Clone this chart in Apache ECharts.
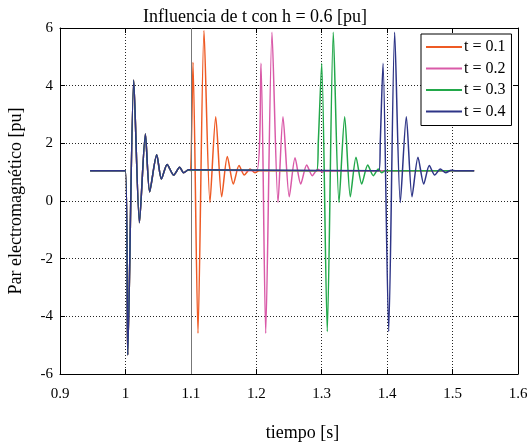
<!DOCTYPE html>
<html>
<head>
<meta charset="utf-8">
<script src="https://cdn.jsdelivr.net/npm/echarts@6/dist/echarts.min.js"></script>
<style>html,body{margin:0;padding:0;background:#fff;}#c{width:531px;height:444px;}</style>
</head>
<body>
<div id="c"></div>
<script>
// ---- data ----
const xTicks = [0.9, 1.0, 1.1, 1.2, 1.3, 1.4, 1.5, 1.6];
const yTicks = [-6, -4, -2, 0, 2, 4, 6];
const seriesNames = ['t = 0.1', 't = 0.2', 't = 0.3', 't = 0.4'];
const startTime = 0.946;
const endTime = 1.533;
const steadyLevel = 1.05;
const clearMarker = 1.1;

// common fault transient (starting at t = 1.0 s)
const faultTime  = [1.000, 1.0035, 1.0127, 1.0214, 1.0305, 1.0370, 1.0478, 1.0550, 1.0637, 1.0737, 1.0829, 1.0890, 1.0966];
const faultValue = [1.05, -5.34, 4.20, -0.75, 2.32, 0.32, 1.60, 0.76, 1.27, 0.90, 1.17, 0.98, 1.08];

// clearing transients
const clear1Time  = [1.0994, 1.1033, 1.1109, 1.1201, 1.1292, 1.1380, 1.1471, 1.1557, 1.1649, 1.1736, 1.1817, 1.1904, 1.1980, 1.2041];
const clear1Value = [1.05, 4.81, -4.59, 5.91, -0.05, 2.92, 0.15, 1.54, 0.59, 1.23, 0.90, 1.11, 0.98, 1.05];

const clear2Time  = [1.2006, 1.2072, 1.2144, 1.2240, 1.2332, 1.2408, 1.2504, 1.2592, 1.2679, 1.2770, 1.2856, 1.2938, 1.3015, 1.3065];
const clear2Value = [1.05, 4.78, -4.59, 5.85, -0.05, 2.92, 0.15, 1.50, 0.59, 1.25, 0.88, 1.10, 1.00, 1.05];

const clear3Time  = [1.2923, 1.2948, 1.3000, 1.3085, 1.3177, 1.3264, 1.3351, 1.3437, 1.3524, 1.3611, 1.3703, 1.3788, 1.3865, 1.3917, 1.3967];
const clear3Value = [1.05, 2.05, 4.78, -4.53, 5.85, -0.05, 2.92, 0.15, 1.52, 0.59, 1.25, 0.88, 1.11, 0.98, 1.05];

const clear4Time  = [1.3875, 1.3895, 1.3937, 1.4024, 1.4115, 1.4201, 1.4293, 1.4380, 1.4471, 1.4559, 1.4644, 1.4727, 1.4812, 1.4895, 1.4980, 1.5052];
const clear4Value = [1.05, 2.05, 4.78, -4.53, 5.85, -0.05, 2.92, 0.15, 1.52, 0.59, 1.23, 0.90, 1.11, 0.98, 1.07, 1.05];

const seriesColors = ['#EE5A24', '#D95AA8', '#22A84A', '#2E3587'];

// ---- build ----
const clears = [[clear1Time, clear1Value], [clear2Time, clear2Value], [clear3Time, clear3Value], [clear4Time, clear4Value]];
function buildData(ct, cv) {
  const d = [[startTime, steadyLevel]];
  faultTime.forEach((t, i) => d.push([t, faultValue[i]]));
  ct.forEach((t, i) => d.push([t, cv[i]]));
  d.push([endTime, steadyLevel]);
  return d;
}
const FONT = 'Liberation Serif';
const series = seriesNames.map((name, i) => {
  const s = {
    name: name,
    type: 'line',
    data: buildData(clears[i][0], clears[i][1]),
    showSymbol: false,
    symbol: 'none',
    smooth: 0.25,
    lineStyle: { color: seriesColors[i], width: 1.5 },
    itemStyle: { color: seriesColors[i] },
    animation: false,
    z: 3 + i
  };
  if (i === 0) {
    s.markLine = {
      silent: true, symbol: 'none', label: { show: false }, animation: false,
      lineStyle: { color: '#777', type: 'solid', width: 1 },
      data: [{ xAxis: clearMarker }]
    };
  }
  return s;
});

const xMin = xTicks[0], xMax = xTicks[xTicks.length - 1];
const yMin = yTicks[0], yMax = yTicks[yTicks.length - 1];
const xInt = 0.1, yInt = 2;
const gridLine = { show: true, lineStyle: { color: '#000', type: [1, 2], width: 1, opacity: 0.85 } };
const axisLine = { show: true, onZero: false, lineStyle: { color: '#000', width: 1 } };
const tick = { show: true, inside: true, length: 5, lineStyle: { color: '#000' } };
const labelStyle = { color: '#000', fontFamily: FONT, fontSize: 15 };

const chart = echarts.init(document.getElementById('c'), null, { renderer: 'canvas' });
chart.setOption({
  animation: false,
  backgroundColor: '#fff',
  title: {
    text: 'Influencia de t con h = 0.6 [pu]',
    left: 138, top: 3,
    textStyle: { fontFamily: FONT, fontSize: 18, fontWeight: 'normal', color: '#000' }
  },
  legend: {
    data: seriesNames,
    orient: 'vertical',
    left: 421, top: 34,
    backgroundColor: '#fff',
    borderColor: '#000', borderWidth: 1,
    padding: [5, 6, 6, 5],
    itemWidth: 36, itemHeight: 2, itemGap: 5.5,
    icon: 'rect',
    textStyle: { fontFamily: FONT, fontSize: 16, color: '#000', lineHeight: 16, padding: [0, 0, 0, -3] }
  },
  grid: { left: 60, top: 28, right: 13, bottom: 70, containLabel: false, outerBoundsMode: 'none' },
  xAxis: [{
    type: 'value', min: xMin, max: xMax, interval: xInt, position: 'bottom',
    name: 'tiempo [s]', nameLocation: 'middle', nameGap: 50,
    nameTextStyle: { fontFamily: FONT, fontSize: 18, color: '#000', padding: [0, 0, 0, 27] },
    axisLine: axisLine, axisTick: tick, splitLine: gridLine,
    axisLabel: Object.assign({ margin: 13, formatter: v => String(Math.round(v * 10) / 10) }, labelStyle)
  }, {
    type: 'value', min: xMin, max: xMax, interval: xInt, position: 'top',
    axisLine: axisLine, axisTick: tick, splitLine: { show: false }, axisLabel: { show: false }
  }],
  yAxis: [{
    type: 'value', min: yMin, max: yMax, interval: yInt, position: 'left',
    name: 'Par electromagnético [pu]', nameLocation: 'middle', nameGap: 35,
    nameTextStyle: { fontFamily: FONT, fontSize: 18, color: '#000' },
    axisLine: axisLine, axisTick: tick, splitLine: gridLine,
    axisLabel: Object.assign({ margin: 7 }, labelStyle)
  }, {
    type: 'value', min: yMin, max: yMax, interval: yInt, position: 'right',
    axisLine: axisLine, axisTick: tick, splitLine: { show: false }, axisLabel: { show: false }
  }],
  series: series
});
</script>
</body>
</html>
